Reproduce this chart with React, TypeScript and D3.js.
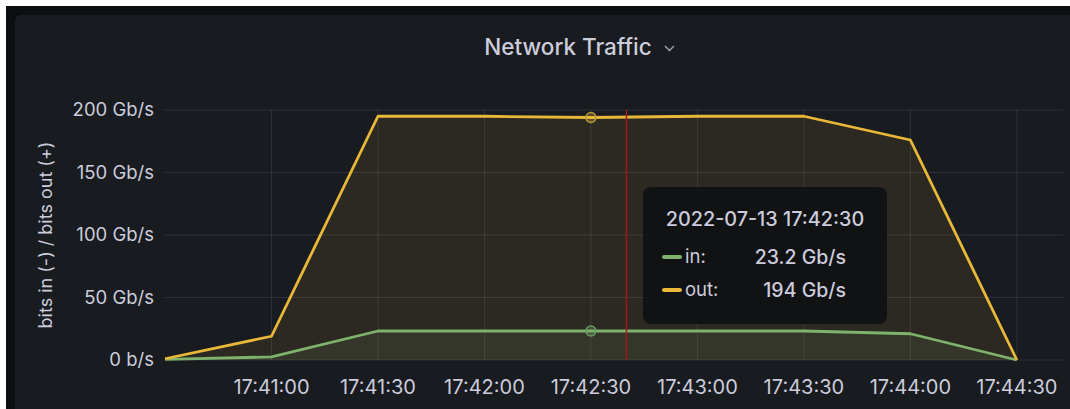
import React from 'react'
import * as d3 from 'd3'

// samples every 30s, Gb/s
const times = [
  '17:40:30', '17:41:00', '17:41:30', '17:42:00', '17:42:30',
  '17:43:00', '17:43:30', '17:44:00', '17:44:30',
]
const bitsIn = [0.5, 2.5, 23.2, 23.2, 23.2, 23.2, 23.2, 21, 0]
const bitsOut = [1, 19, 195, 195, 194, 195, 195, 176, 0]

const yTicks = [0, 50, 100, 150, 200]
const yTickLabels = ['0 b/s', '50 Gb/s', '100 Gb/s', '150 Gb/s', '200 Gb/s']
const xTicks = ['17:41:00', '17:41:30', '17:42:00', '17:42:30', '17:43:00', '17:43:30', '17:44:00', '17:44:30']

const hoverIndex = 4
const hoverTime = '17:42:40'
const tooltipDate = '2022-07-13 17:42:30'
const tooltipRows = [
  { name: 'in', value: '23.2 Gb/s', color: '#7eb26d' },
  { name: 'out', value: '194 Gb/s', color: '#eab839' },
]

const W = 1070
const H = 409
const parse = (t: string) => new Date(`2022-07-13T${t}`)

const App: React.FC = () => {
  const x = d3
    .scaleTime()
    .domain([parse('17:40:30'), parse('17:44:43')])
    .range([165, 1063])
  const y = d3.scaleLinear().domain([0, 200]).range([360, 110])

  const pts = times.map((t, i) => ({ t: parse(t), vin: bitsIn[i], vout: bitsOut[i] }))
  type P = (typeof pts)[number]

  const lineOut = d3.line<P>().x((d) => x(d.t)).y((d) => y(d.vout))
  const lineIn = d3.line<P>().x((d) => x(d.t)).y((d) => y(d.vin))
  const areaOut = d3.area<P>().x((d) => x(d.t)).y0(y(0)).y1((d) => y(d.vout))
  const areaIn = d3.area<P>().x((d) => x(d.t)).y0(y(0)).y1((d) => y(d.vin))

  const hp = pts[hoverIndex]
  const hx = x(parse(hoverTime))
  const fmt = d3.timeFormat('%H:%M:%S')
  const font = 'Inter, Roboto, sans-serif'
  const textColor = '#ccccdc'

  // tooltip box
  const tipX = 643
  const tipY = 187
  const tipW = 244
  const tipH = 137

  return (
    <svg
      width={W}
      height={H}
      style={{ position: 'absolute', left: 0, top: 0, fontFamily: font }}
    >
      <rect width={W} height={H} fill="#ffffff" />
      <rect x={6} y={6} width={W - 6} height={H - 6} fill="#0d0e12" />
      <rect x={15} y={15} width={W + 20} height={H + 20} rx={6} fill="#181b1f" />

      <text x={568} y={55} textAnchor="middle" fill={textColor} fontSize={22.5} fontWeight={500}>
        Network Traffic
      </text>
      <path d="M665,46 l4.5,4.5 l4.5,-4.5" fill="none" stroke="#9fa7b3" strokeWidth={1.4} />

      {/* grid */}
      {yTicks.map((v) => (
        <line key={v} x1={165} x2={1063} y1={y(v)} y2={y(v)} stroke="rgba(204,204,220,0.12)" strokeWidth={1} />
      ))}
      {xTicks.map((t) => (
        <line key={t} x1={x(parse(t))} x2={x(parse(t))} y1={y(200)} y2={y(0)} stroke="rgba(204,204,220,0.12)" strokeWidth={1} />
      ))}

      {/* series */}
      <path d={areaOut(pts) ?? ''} fill="#d9a23a" fillOpacity={0.1} />
      <path d={areaIn(pts) ?? ''} fill="#7eb26d" fillOpacity={0.1} />
      <path d={lineIn(pts) ?? ''} fill="none" stroke="#7eb26d" strokeWidth={2.8} strokeLinejoin="round" />
      <path d={lineOut(pts) ?? ''} fill="none" stroke="#eab839" strokeWidth={2.8} strokeLinejoin="round" />

      {/* hover */}
      <line x1={hx} x2={hx} y1={y(200)} y2={y(0)} stroke="#a01818" strokeWidth={1.5} />
      <circle cx={x(hp.t)} cy={y(hp.vout)} r={5} fill="#eab839" fillOpacity={0.25} stroke="#b8983a" strokeWidth={1.5} />
      <circle cx={x(hp.t)} cy={y(hp.vin)} r={5} fill="#7eb26d" fillOpacity={0.25} stroke="#6a9a62" strokeWidth={1.5} />

      {/* axes labels */}
      {yTicks.map((v, i) => (
        <text key={v} x={154} y={y(v)} dy="0.35em" textAnchor="end" fill={textColor} fontSize={18.5}>
          {yTickLabels[i]}
        </text>
      ))}
      {xTicks.map((t) => (
        <text key={t} x={x(parse(t))} y={394} textAnchor="middle" fill={textColor} fontSize={20}>
          {fmt(parse(t))}
        </text>
      ))}
      <text
        transform={`translate(52,${y(100)}) rotate(-90)`}
        textAnchor="middle"
        fill={textColor}
        fontSize={18}
      >
        bits in (-) / bits out (+)
      </text>

      {/* tooltip */}
      <rect x={tipX} y={tipY} width={tipW} height={tipH} rx={8} fill="#111214" fillOpacity={0.96} />
      <text x={tipX + 122} y={tipY + 39} textAnchor="middle" fill={textColor} fontSize={19.8} fontWeight={500}>
        {tooltipDate}
      </text>
      {tooltipRows.map((r, i) => (
        <g key={r.name} transform={`translate(0,${tipY + 70 + i * 33})`}>
          <line x1={tipX + 21} x2={tipX + 37} y1={0} y2={0} stroke={r.color} strokeWidth={4} strokeLinecap="round" />
          <text x={tipX + 42} y={0} dy="0.35em" fill={textColor} fontSize={18.5}>
            {r.name}:
          </text>
          <text x={tipX + 203} y={0} dy="0.35em" textAnchor="end" fill={textColor} fontSize={19.5} fontWeight={500}>
            {r.value}
          </text>
        </g>
      ))}
    </svg>
  )
}

export default App
